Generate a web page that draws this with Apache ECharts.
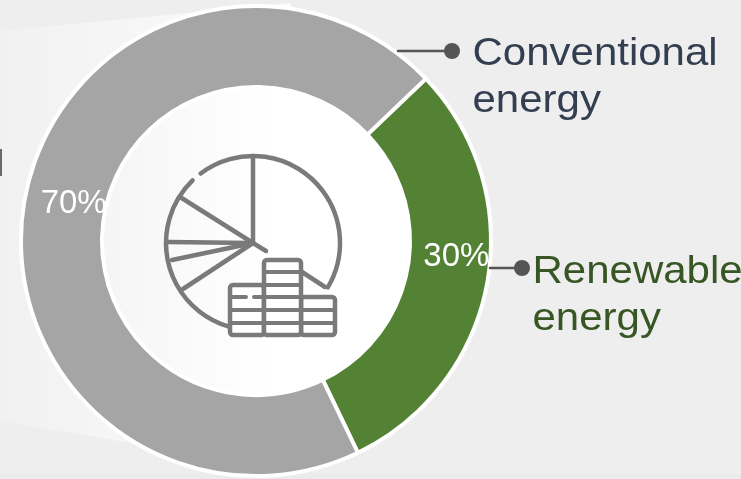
<!DOCTYPE html>
<html><head><meta charset="utf-8">
<style>html,body{margin:0;padding:0;background:#eeeeee}#c{width:741px;height:479px}</style>
<script src="https://cdn.jsdelivr.net/npm/echarts@6/dist/echarts.min.js"></script>
</head><body><div id="c"></div>
<script>
var categories = ['Renewable energy', 'Conventional energy'];
var shares = [30, 70];
var sliceColors = ['#548235', '#a5a5a5'];
var labelOffsets = [[6, -19], [12, -2]];

var F = '"Liberation Sans", Arial, sans-serif';
var ICON = '#7a7a7a';
function line(x1, y1, x2, y2, w, c) {
  return {type:'line', z:10, shape:{x1:x1,y1:y1,x2:x2,y2:y2},
    style:{stroke:c||ICON, lineWidth:w||4.5, lineCap:'round'}, silent:true};
}
function arc(a0, a1) {
  return {type:'arc', z:10, shape:{cx:253,cy:243,r:87,startAngle:a0*Math.PI/180,endAngle:a1*Math.PI/180,clockwise:true},
    style:{stroke:ICON, lineWidth:4.5, lineCap:'round', fill:null}, silent:true};
}
function rrect(x,y,w,h) {
  return {type:'rect', z:10, shape:{x:x,y:y,width:w,height:h,r:3},
    style:{stroke:ICON, lineWidth:4.5, fill:'#fff'}, silent:true};
}
function label(text, x, y, color) {
  return {type:'text', z:10, x:x, y:y, scaleX:1.105, silent:true,
    style:{text:text.replace(' ', '\n'), font:'38px '+F, lineHeight:47, fill:color, textVerticalAlign:'top'}};
}
var graphics = [
  {type:'rect', z:0, shape:{x:0,y:474,width:741,height:5}, style:{fill:'#ebebeb'}, silent:true},
  {type:'polygon', z:0, shape:{points:[[0,31],[291,3],[291,470],[0,421]]}, silent:true,
    style:{fill:{type:'linear',x:0,y:0,x2:1,y2:0,colorStops:[{offset:0,color:'#f1f1f1'},{offset:1,color:'#fcfcfc'}]}}},
  {type:'rect', z:0, shape:{x:291,y:0,width:60,height:3}, style:{fill:'#eeeeee'}, silent:true},
  {type:'rect', z:1, shape:{x:0,y:149,width:2,height:27}, style:{fill:'#6a6a6a'}, silent:true},
  {type:'circle', z:1, shape:{cx:256,cy:241,r:154}, silent:true,
    style:{fill:{type:'linear',x:0,y:0,x2:1,y2:0,colorStops:[{offset:0,color:'#f5f5f5'},{offset:0.55,color:'#ffffff'},{offset:1,color:'#ffffff'}]}}},
  arc(233, 390.7), arc(106.5, 226),
  line(253,243,253,156), line(253,243,180,197), line(253,243,168,242),
  line(253,243,172,260), line(253,243,183,289), line(253,243,266,251),
  line(302,272,325,287),
  rrect(230,285,34,50), rrect(301,297,34,38), rrect(264,260,37,75),
  line(264,272,301,272,4), line(264,285,301,285,4), line(264,297,301,297,4), line(264,310,301,310,4), line(264,323,301,323,4),
  line(230,297,246,297,4), line(254,297,264,297,4), line(230,310,264,310,4), line(230,323,264,323,4),
  line(301,310,335,310,4), line(301,323,335,323,4),
  line(398,51,452,51,2.5,'#555555'),
  {type:'circle', z:10, shape:{cx:452,cy:51,r:8}, style:{fill:'#555555'}, silent:true},
  line(490,268,522,268,2.5,'#555555'),
  {type:'circle', z:10, shape:{cx:522,cy:268,r:8}, style:{fill:'#555555'}, silent:true},
  label(categories[1], 472.5, 31, '#333f50'),
  label(categories[0], 532.5, 249, '#375623')
];
var chart = echarts.init(document.getElementById('c'), null, {renderer:'canvas'});
chart.setOption({
  backgroundColor:'#eeeeee',
  animation:false,
  graphic:{elements:graphics},
  series:[{
    type:'pie', center:[256,241], radius:[154,235], startAngle:43.7, clockwise:true, silent:true,
    itemStyle:{borderColor:'#ffffff', borderWidth:4},
    label:{position:'inside', formatter:'{d}%', color:'#fff', fontFamily:F, fontSize:33},
    labelLine:{show:false},
    data:categories.map(function(n,i){
      return {name:n, value:shares[i], itemStyle:{color:sliceColors[i]}, label:{offset:labelOffsets[i]}};
    })
  }]
});
</script></body></html>
